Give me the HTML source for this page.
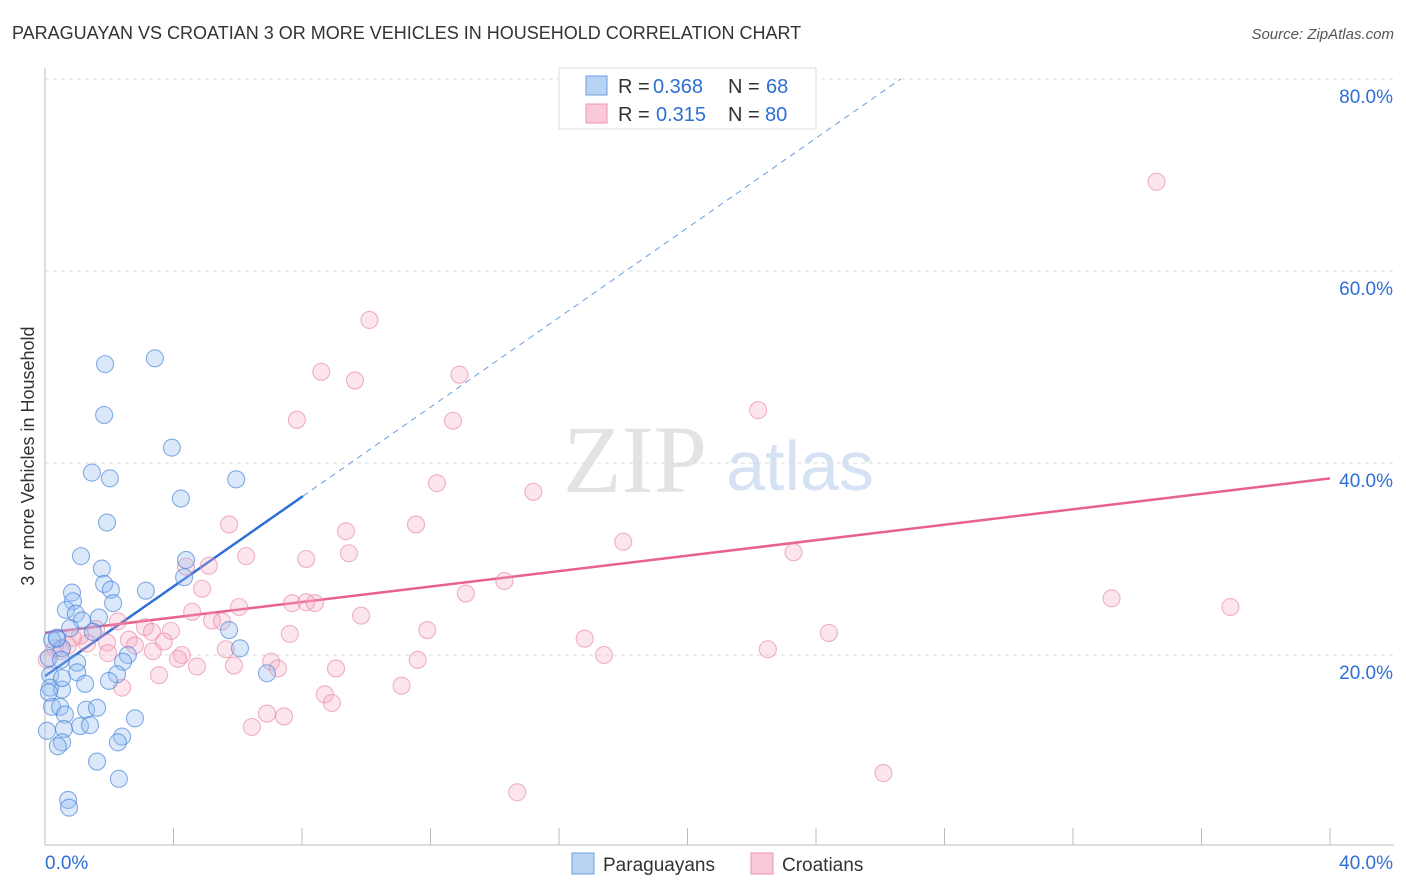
<!DOCTYPE html>
<html><head><meta charset="utf-8"><style>
body{margin:0;background:#fff;font-family:"Liberation Sans",sans-serif}
svg{display:block}
</style></head><body>
<svg id="c" width="1406" height="892" xmlns="http://www.w3.org/2000/svg">
<text x="12" y="39" font-size="18" fill="#333">PARAGUAYAN VS CROATIAN 3 OR MORE VEHICLES IN HOUSEHOLD CORRELATION CHART</text>
<text x="1394" y="39" font-size="15" fill="#555" font-style="italic" text-anchor="end">Source: ZipAtlas.com</text>
<text x="34" y="456" font-size="18" fill="#333" text-anchor="middle" transform="rotate(-90 34 456)">3 or more Vehicles in Household</text>
<g><text x="635" y="492" font-size="96" fill="#e3e3e3" font-family="Liberation Serif,serif" text-anchor="middle">ZIP</text><text x="800" y="490" font-size="70" fill="#d5e2f3" text-anchor="middle">atlas</text></g>
<g id="grid"></g><g id="axes"></g><g id="lines"></g><g id="pts"></g>
<g>
<rect x="559" y="68" width="257" height="61" fill="#fff" stroke="#ddd"/>
<rect x="586" y="76" width="21" height="19" fill="#b8d3f3" stroke="#6a9fe0"/>
<rect x="586" y="104" width="21" height="19" fill="#f9c9d7" stroke="#eb93ae"/>
<text x="618" y="93" font-size="20" fill="#333">R =</text>
<text x="653" y="93" font-size="20" fill="#2d6fd6">0.368</text>
<text x="728" y="93" font-size="20" fill="#333">N =</text>
<text x="766" y="93" font-size="20" fill="#2d6fd6">68</text>
<text x="618" y="121" font-size="20" fill="#333">R =</text>
<text x="656" y="121" font-size="20" fill="#2d6fd6">0.315</text>
<text x="728" y="121" font-size="20" fill="#333">N =</text>
<text x="765" y="121" font-size="20" fill="#2d6fd6">80</text>
</g>
<g>
<rect x="572" y="853" width="22" height="21" fill="#b8d3f3" stroke="#6a9fe0"/>
<text x="603" y="871" font-size="19" fill="#333">Paraguayans</text>
<rect x="751" y="853" width="22" height="21" fill="#f9c9d7" stroke="#eb93ae"/>
<text x="782" y="871" font-size="19" fill="#333">Croatians</text>
</g>
</svg>
<script>
const blueX=[3.42,1.87,1.84,3.95,1.46,2.02,5.95,4.23,1.93,1.12,4.39,1.77,4.33,1.84,2.05,3.14,0.84,0.87,2.12,0.65,0.96,1.68,1.15,0.78,5.73,0.37,1.49,0.22,0.53,6.07,2.58,0.12,0.5,1.0,2.43,0.16,1.0,2.24,6.91,1.25,1.99,0.16,0.53,0.22,0.47,1.28,1.62,2.8,0.62,1.09,1.4,0.59,0.06,2.4,2.27,0.53,0.4,1.62,2.3,0.72,0.75,0.53,0.12,0.37];
const blueY=[50.9,50.3,45.0,41.6,39.0,38.4,38.3,36.3,33.8,30.3,29.9,29.0,28.1,27.4,26.8,26.7,26.5,25.6,25.4,24.7,24.3,23.9,23.6,22.8,22.6,21.8,22.4,21.6,20.7,20.7,20.0,19.7,19.5,19.2,19.3,17.9,18.2,18.0,18.1,17.0,17.3,16.6,16.4,14.6,14.6,14.3,14.5,13.4,13.8,12.6,12.7,12.3,12.1,11.5,10.9,10.9,10.5,8.9,7.1,4.9,4.1,17.6,16.1,21.7];
const pinkX=[34.6,10.1,8.6,12.9,9.65,22.2,7.84,12.7,12.2,15.2,5.73,11.55,9.37,18.0,6.26,9.46,8.13,23.3,5.1,4.39,14.3,4.89,13.1,33.2,36.9,6.04,7.69,8.13,8.4,4.58,9.84,5.2,5.51,2.27,3.11,3.92,3.33,11.9,7.62,24.4,1.59,1.09,2.61,3.7,2.8,1.93,16.8,5.63,3.36,22.5,0.5,1.31,4.26,17.4,1.96,4.14,11.6,7.04,5.88,7.25,4.73,9.06,3.55,2.4,11.1,8.71,8.93,6.91,7.44,6.44,26.1,14.7,0.31,0.72,0.06,0.87];
const pinkY=[69.3,54.9,49.5,49.2,48.6,45.5,44.5,44.4,37.9,37.0,33.6,33.6,32.9,31.8,30.3,30.6,30.0,30.7,29.3,29.2,27.7,26.9,26.4,25.9,25.0,25.0,25.4,25.5,25.4,24.5,24.1,23.6,23.5,23.5,22.9,22.5,22.4,22.6,22.2,22.3,22.7,22.0,21.6,21.4,21.0,21.3,21.7,20.6,20.4,20.6,20.4,21.2,20.0,20.0,20.2,19.6,19.5,19.3,18.9,18.6,18.8,18.6,17.9,16.6,16.8,15.9,15.0,13.9,13.6,12.5,7.7,5.7,20.7,21.0,19.5,21.8];
const yTicks=[20,40,60,80];
const blueFit=[17.8,2.335];
const pinkFit=[22.3,0.4025];
const NS='http://www.w3.org/2000/svg';
const sx=v=>45+v/40*1285, sy=v=>847-v/20*192;
function mk(p,t,a){const e=document.createElementNS(NS,t);for(const k in a)e.setAttribute(k,a[k]);p.appendChild(e);return e;}
const grid=document.getElementById('grid'),axes=document.getElementById('axes'),lines=document.getElementById('lines'),pts=document.getElementById('pts');
yTicks.forEach(t=>{
 const l=mk(grid,'line',{x1:45,x2:1394,y1:sy(t),y2:sy(t),stroke:'#ddd','stroke-dasharray':'4,4'});
 
 
 const tx=mk(grid,'text',{x:1393,y:sy(t)+24,'font-size':19,fill:'#2d6fd6','text-anchor':'end'});tx.textContent=t.toFixed(1)+'%';
 
 
});
mk(axes,'line',{x1:45,x2:45,y1:68,y2:845,stroke:'#bbb'});
mk(axes,'line',{x1:45,x2:1394,y1:845,y2:845,stroke:'#bbb'});
for(let i=1;i<=10;i++){mk(axes,'line',{x1:sx(i*4),x2:sx(i*4),y1:828,y2:845,stroke:'#bbb'});}
let t0=mk(axes,'text',{x:45,y:869,'font-size':19,fill:'#2d6fd6'});t0.textContent='0.0%';


let t1=mk(axes,'text',{x:1393,y:869,'font-size':19,fill:'#2d6fd6','text-anchor':'end'});t1.textContent='40.0%';


function dots(X,Y,fill,stroke,name){X.forEach((x,i)=>{const c=mk(pts,'circle',{cx:sx(x),cy:sy(Y[i]),r:8.5,fill:fill,stroke:stroke,'stroke-width':1.1});
 
 });}
dots(pinkX,pinkY,'rgba(246,170,195,0.3)','rgba(232,130,160,0.6)','croatian-point');
dots(blueX,blueY,'rgba(150,190,240,0.35)','rgba(70,130,215,0.65)','paraguayan-point');
const bEnd=8.03, bDash=(80-blueFit[0])/blueFit[1];
let bl=mk(lines,'line',{x1:sx(0),y1:sy(blueFit[0]),x2:sx(bEnd),y2:sy(blueFit[0]+blueFit[1]*bEnd),stroke:'#2d6fd6','stroke-width':2.5});


let bd=mk(lines,'line',{x1:sx(bEnd),y1:sy(blueFit[0]+blueFit[1]*bEnd),x2:sx(bDash),y2:sy(80),stroke:'#6a9fe0','stroke-width':1,'stroke-dasharray':'6,5'});


let pl=mk(lines,'line',{x1:sx(0),y1:sy(pinkFit[0]),x2:sx(40),y2:sy(pinkFit[0]+pinkFit[1]*40),stroke:'#e8628e','stroke-width':2.5});


</script>
</body></html>
